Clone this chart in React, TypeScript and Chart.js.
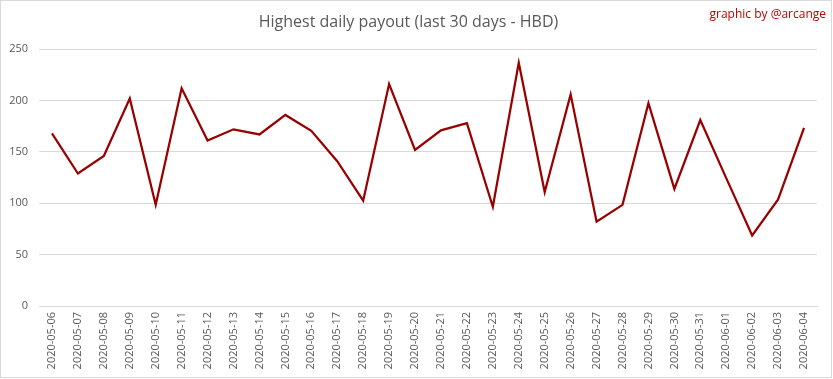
import React, { useEffect, useRef } from "react";
import { Chart, registerables } from "chart.js";

Chart.register(...registerables);

const dates: string[] = [
  "2020-05-06", "2020-05-07", "2020-05-08", "2020-05-09", "2020-05-10",
  "2020-05-11", "2020-05-12", "2020-05-13", "2020-05-14", "2020-05-15",
  "2020-05-16", "2020-05-17", "2020-05-18", "2020-05-19", "2020-05-20",
  "2020-05-21", "2020-05-22", "2020-05-23", "2020-05-24", "2020-05-25",
  "2020-05-26", "2020-05-27", "2020-05-28", "2020-05-29", "2020-05-30",
  "2020-05-31", "2020-06-01", "2020-06-02", "2020-06-03", "2020-06-04",
];

const payouts: number[] = [
  168, 129, 146, 202, 98.5,
  212, 161, 172, 167, 186,
  170.5, 141, 102.5, 216, 152,
  171, 178, 96.6, 236.7, 111,
  206, 82, 98.5, 197.5, 114,
  181, 124.5, 68.7, 103.8, 173.5,
];

const yTicks: number[] = [0, 50, 100, 150, 200, 250];

const titleText = "Highest daily payout (last 30 days - HBD)";
const creditText = "graphic by @arcange";

const creditPlugin = {
  id: "credit",
  afterDraw(chart: any) {
    const ctx = chart.ctx;
    ctx.save();
    ctx.font = "12px 'Open Sans'";
    ctx.fillStyle = "#c00000";
    ctx.textAlign = "right";
    ctx.textBaseline = "middle";
    ctx.fillText(creditText, 826, 15);
    ctx.restore();
  },
};

export default function App() {
  const ref = useRef<HTMLCanvasElement | null>(null);

  useEffect(() => {
    if (!ref.current) return;
    const chart = new Chart(ref.current, {
      type: "line",
      data: {
        labels: dates,
        datasets: [
          {
            data: payouts,
            borderColor: "#990000",
            borderWidth: 2.25,
            pointRadius: 0,
            tension: 0,
            fill: false,
          },
        ],
      },
      options: {
        responsive: false,
        animation: false,
        layout: { padding: { left: 0, right: 16, top: 0, bottom: 0 } },
        plugins: {
          legend: { display: false },
          tooltip: { enabled: false },
          title: {
            display: true,
            text: titleText,
            color: "#595959",
            font: { family: "'Open Sans'", size: 16, weight: "normal", lineHeight: 1.2 },
            padding: { top: 13, bottom: 17 },
          },
        },
        scales: {
          x: {
            offset: true,
            grid: { display: false, drawTicks: false },
            border: { display: true, color: "#d9d9d9", width: 1 },
            ticks: {
              color: "#595959",
              font: { family: "'Open Sans'", size: 11 },
              minRotation: 90,
              maxRotation: 90,
              autoSkip: false,
              padding: 6,
            },
            afterFit(scale: any) {
              scale.height = 73;
            },
          },
          y: {
            min: 0,
            max: 250,
            afterBuildTicks(scale: any) {
              scale.ticks = yTicks.map((v) => ({ value: v }));
            },
            grid: { color: "#d9d9d9", drawTicks: false, lineWidth: 1 },
            border: { display: false },
            ticks: {
              color: "#595959",
              font: { family: "'Open Sans'", size: 11 },
              padding: 11,
            },
            afterFit(scale: any) {
              scale.width = 39;
            },
          },
        },
      },
      plugins: [creditPlugin],
    } as any);
    return () => chart.destroy();
  }, []);

  return (
    <div
      style={{
        position: "fixed",
        left: 0,
        top: 0,
        width: 833,
        height: 379,
        background: "#fff",
      }}
    >
      <div
        style={{
          position: "absolute",
          left: 0,
          top: 0,
          width: 832,
          height: 378,
          boxSizing: "border-box",
          border: "1px solid #d9d9d9",
        }}
      />
      <canvas
        ref={ref}
        width={833}
        height={379}
        style={{ position: "absolute", left: 0, top: 0, width: 833, height: 379 }}
      />
    </div>
  );
}
